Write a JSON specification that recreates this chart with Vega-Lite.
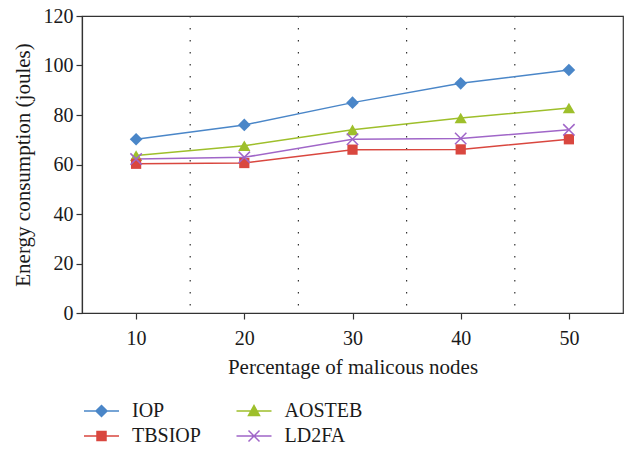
{
  "$schema": "https://vega.github.io/schema/vega-lite/v6.json",
  "width": 541,
  "height": 297,
  "autosize": {"type": "none"},
  "padding": {"left": 82, "top": 16, "right": 6, "bottom": 136},
  "background": "white",
  "config": {
    "view": {"stroke": "#333", "strokeWidth": 1.2},
    "font": "Liberation Serif",
    "axis": {
      "labelFont": "Liberation Serif",
      "titleFont": "Liberation Serif",
      "labelFontSize": 20,
      "titleFontSize": 21,
      "labelColor": "#1a1a1a",
      "titleColor": "#1a1a1a",
      "titleFontWeight": "normal",
      "domainColor": "#333",
      "tickColor": "#333",
      "domainWidth": 1.2,
      "tickWidth": 1.2,
      "tickSize": 6,
      "grid": false
    },
    "legend": {
      "labelFont": "Liberation Serif",
      "labelFontSize": 20,
      "labelColor": "#1a1a1a",
      "symbolOpacity": 1
    }
  },
  "datasets": {
    "series": [
      {"pct": 10, "energy": 70.2, "method": "IOP"},
      {"pct": 20, "energy": 76.0, "method": "IOP"},
      {"pct": 30, "energy": 85.0, "method": "IOP"},
      {"pct": 40, "energy": 92.8, "method": "IOP"},
      {"pct": 50, "energy": 98.2, "method": "IOP"},
      {"pct": 10, "energy": 63.6, "method": "AOSTEB"},
      {"pct": 20, "energy": 67.6, "method": "AOSTEB"},
      {"pct": 30, "energy": 74.0, "method": "AOSTEB"},
      {"pct": 40, "energy": 78.8, "method": "AOSTEB"},
      {"pct": 50, "energy": 82.8, "method": "AOSTEB"},
      {"pct": 10, "energy": 60.3, "method": "TBSIOP"},
      {"pct": 20, "energy": 60.6, "method": "TBSIOP"},
      {"pct": 30, "energy": 66.0, "method": "TBSIOP"},
      {"pct": 40, "energy": 66.1, "method": "TBSIOP"},
      {"pct": 50, "energy": 70.2, "method": "TBSIOP"},
      {"pct": 10, "energy": 62.2, "method": "LD2FA"},
      {"pct": 20, "energy": 62.9, "method": "LD2FA"},
      {"pct": 30, "energy": 70.2, "method": "LD2FA"},
      {"pct": 40, "energy": 70.5, "method": "LD2FA"},
      {"pct": 50, "energy": 74.0, "method": "LD2FA"}
    ],
    "dividers": [{"b": 15}, {"b": 25}, {"b": 35}, {"b": 45}]
  },
  "layer": [
    {
      "data": {"name": "dividers"},
      "mark": {"type": "rule", "color": "#333", "strokeDash": [1.5, 10.5], "strokeWidth": 1.2},
      "encoding": {
        "x": {"field": "b", "type": "quantitative", "scale": {"domain": [5, 55]}}
      }
    },
    {
      "data": {"name": "series"},
      "mark": {"type": "line", "strokeWidth": 1.5},
      "encoding": {
        "x": {
          "field": "pct", "type": "quantitative",
          "scale": {"domain": [5, 55], "nice": false},
          "axis": {"values": [10, 20, 30, 40, 50], "title": "Percentage of malicous nodes", "titlePadding": 8, "labelPadding": 9}
        },
        "y": {
          "field": "energy", "type": "quantitative",
          "scale": {"domain": [0, 120], "nice": false},
          "axis": {"values": [0, 20, 40, 60, 80, 100, 120], "title": "Energy consumption (joules)", "titlePadding": 10, "labelPadding": 3}
        },
        "color": {
          "field": "method", "type": "nominal",
          "scale": {"domain": ["IOP", "AOSTEB", "TBSIOP", "LD2FA"], "range": ["#4a86c8", "#9ebf2b", "#d9473f", "#a066c8"]},
          "legend": {
            "title": null,
            "orient": "none",
            "legendX": 8.5,
            "legendY": 384,
            "direction": "horizontal",
            "columns": 2,
            "columnPadding": 31.5,
            "rowPadding": 4,
            "symbolSize": 400,
            "symbolStrokeWidth": 1.5,
            "labelOffset": 19.5,
            "gridAlign": "each",
            "padding": 0
          }
        }
      }
    },
    {
      "data": {"name": "series"},
      "transform": [{"filter": "datum.method === 'IOP'"}],
      "mark": {"type": "point", "filled": true, "opacity": 1, "shape": "diamond", "size": 160},
      "encoding": {
        "x": {"field": "pct", "type": "quantitative"},
        "y": {"field": "energy", "type": "quantitative"},
        "color": {"field": "method", "type": "nominal"}
      }
    },
    {
      "data": {"name": "series"},
      "transform": [{"filter": "datum.method === 'AOSTEB'"}],
      "mark": {"type": "point", "filled": true, "opacity": 1, "shape": "triangle-up", "size": 150},
      "encoding": {
        "x": {"field": "pct", "type": "quantitative"},
        "y": {"field": "energy", "type": "quantitative"},
        "color": {"field": "method", "type": "nominal"}
      }
    },
    {
      "data": {"name": "series"},
      "transform": [{"filter": "datum.method === 'TBSIOP'"}],
      "mark": {"type": "point", "filled": true, "opacity": 1, "shape": "square", "size": 105},
      "encoding": {
        "x": {"field": "pct", "type": "quantitative"},
        "y": {"field": "energy", "type": "quantitative"},
        "color": {"field": "method", "type": "nominal"}
      }
    },
    {
      "data": {"name": "series"},
      "transform": [{"filter": "datum.method === 'LD2FA'"}],
      "mark": {"type": "point", "filled": false, "opacity": 1, "shape": "M-1,-1L1,1M-1,1L1,-1", "size": 130, "strokeWidth": 1.5},
      "encoding": {
        "x": {"field": "pct", "type": "quantitative"},
        "y": {"field": "energy", "type": "quantitative"},
        "color": {"field": "method", "type": "nominal"}
      }
    },
    {
      "data": {"name": "series"},
      "mark": {"type": "point", "filled": true, "opacity": 0, "strokeWidth": 1.5},
      "encoding": {
        "x": {"field": "pct", "type": "quantitative"},
        "y": {"field": "energy", "type": "quantitative"},
        "color": {"field": "method", "type": "nominal"},
        "stroke": {"field": "method", "type": "nominal", "scale": {"domain": ["IOP", "AOSTEB", "TBSIOP", "LD2FA"], "range": ["#4a86c8", "#9ebf2b", "#d9473f", "#a066c8"]}},
        "shape": {
          "field": "method", "type": "nominal",
          "scale": {"domain": ["IOP", "AOSTEB", "TBSIOP", "LD2FA"], "range": ["M-1.75,0H1.75M0,-0.55L0.55,0L0,0.55L-0.55,0Z", "M-1.75,0H1.75M0,-0.55L0.55,0.45L-0.55,0.45Z", "M-1.75,0H1.75M-0.45,-0.45H0.45V0.45H-0.45Z", "M-1.75,0H1.75M-0.55,-0.55L0.55,0.55M-0.55,0.55L0.55,-0.55"]}
        }
      }
    }
  ]
}
